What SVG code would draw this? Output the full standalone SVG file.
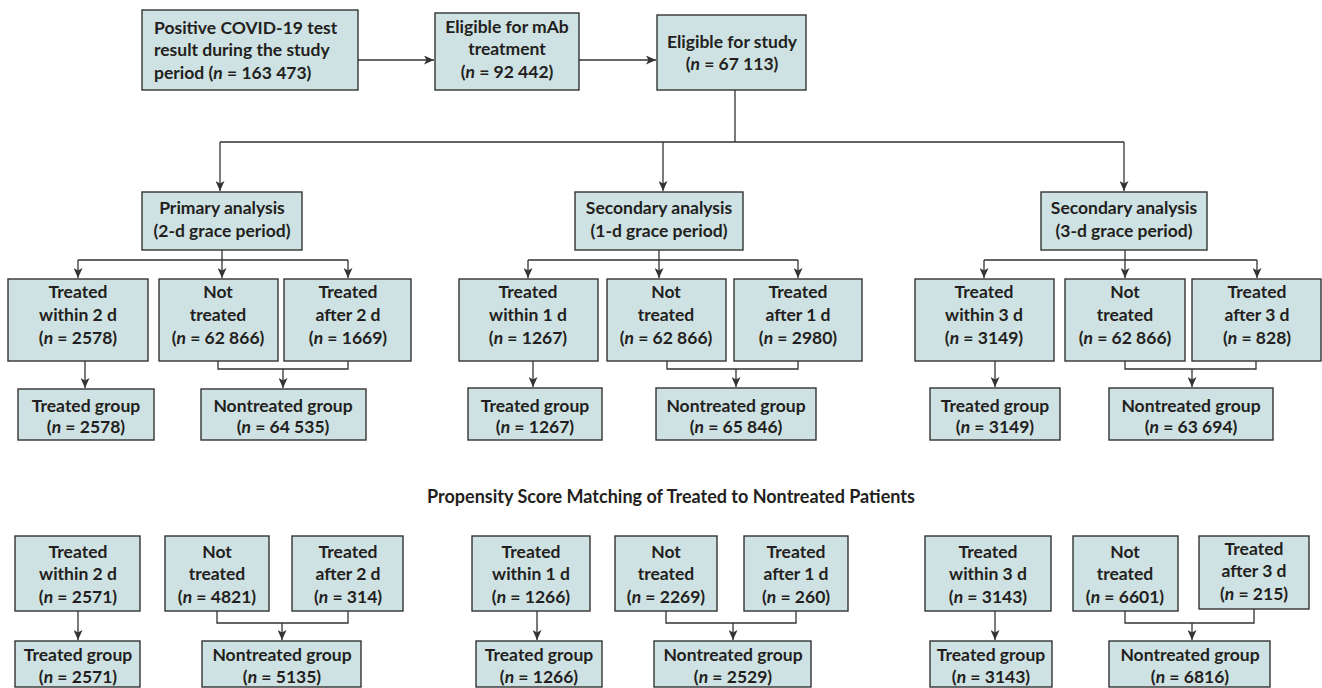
<svg xmlns="http://www.w3.org/2000/svg" width="1322" height="688" viewBox="0 0 1322 688">
<defs>
<style>
.b{fill:#cfe2e3;stroke:#333;stroke-width:1.4}
.t{font-family:Lato,"Open Sans","Liberation Sans",sans-serif;font-size:17.5px;font-weight:700;fill:#231f20;text-anchor:middle}
.h{font-size:18px}
.l{text-anchor:start}
.i{font-style:italic}
.c{fill:none;stroke:#333;stroke-width:1.3}
.a{marker-end:url(#ah)}
</style>
<marker id="ah" markerUnits="userSpaceOnUse" markerWidth="10" markerHeight="9" refX="10" refY="4.5" orient="auto">
<path d="M0,0 L10,4.5 L0,9 L2.5,4.5 z" fill="#333"/>
</marker>
</defs>
<rect width="1322" height="688" fill="#fff"/>

<g id="connectors">
<path class="c a" d="M358 60 H434"/>
<path class="c a" d="M579 60 H656"/>
<path class="c" d="M735 90 V142 M220 142 H1124"/>
<path class="c a" d="M220 142 V191"/>
<path class="c a" d="M663 142 V191"/>
<path class="c a" d="M1124 142 V191"/>

<path class="c" d="M222 250 V260 M78 260 H348"/>
<path class="c a" d="M78 260 V278"/>
<path class="c a" d="M222 260 V278"/>
<path class="c a" d="M348 260 V278"/>
<path class="c a" d="M85 361 V388"/>
<path class="c" d="M218 361 V369 H348 V361"/>
<path class="c a" d="M283 369 V388"/>

<path class="c" d="M659 250 V260 M528 260 H798"/>
<path class="c a" d="M528 260 V278"/>
<path class="c a" d="M659 260 V278"/>
<path class="c a" d="M798 260 V278"/>
<path class="c a" d="M533 361 V387"/>
<path class="c" d="M667 361 V369 H798 V361"/>
<path class="c a" d="M736 369 V387"/>

<path class="c" d="M1125 250 V260 M984 260 H1257"/>
<path class="c a" d="M984 260 V278"/>
<path class="c a" d="M1125 260 V278"/>
<path class="c a" d="M1257 260 V278"/>
<path class="c a" d="M995 361 V387"/>
<path class="c" d="M1125 361 V369 H1256 V361"/>
<path class="c a" d="M1192 369 V387"/>

<path class="c a" d="M78 611 V640"/>
<path class="c" d="M217 611 V623 H348 V611"/>
<path class="c a" d="M282 623 V640"/>

<path class="c a" d="M537 611 V640"/>
<path class="c" d="M666 611 V623 H796 V611"/>
<path class="c a" d="M733 623 V640"/>

<path class="c a" d="M995 611 V640"/>
<path class="c" d="M1125 611 V623 H1254 V609"/>
<path class="c a" d="M1192 623 V640"/>
</g>

<g id="positive">
<rect class="b" x="142" y="10" width="216" height="80"/>
<text class="t l"><tspan x="154" y="34">Positive COVID-19 test</tspan><tspan x="154" y="56">result during the study</tspan><tspan x="154" y="79">period (<tspan class="i">n</tspan> = 163 473)</tspan></text>
</g>
<g id="eligible-mab">
<rect class="b" x="435" y="13" width="144" height="77"/>
<text class="t"><tspan x="507" y="33">Eligible for mAb</tspan><tspan x="507" y="55">treatment</tspan><tspan x="507" y="78">(<tspan class="i">n</tspan> = 92 442)</tspan></text>
</g>
<g id="eligible-study">
<rect class="b" x="657" y="15" width="149" height="75"/>
<text class="t"><tspan x="732" y="48">Eligible for study</tspan><tspan x="732" y="70">(<tspan class="i">n</tspan> = 67 113)</tspan></text>
</g>

<g id="primary">
<rect class="b" x="142" y="192" width="160" height="58"/>
<text class="t"><tspan x="222" y="214">Primary analysis</tspan><tspan x="222" y="237">(2-d grace period)</tspan></text>
</g>
<g id="secondary1">
<rect class="b" x="575" y="192" width="168" height="58"/>
<text class="t"><tspan x="659" y="214">Secondary analysis</tspan><tspan x="659" y="237">(1-d grace period)</tspan></text>
</g>
<g id="secondary3">
<rect class="b" x="1041" y="192" width="166" height="58"/>
<text class="t"><tspan x="1124" y="214">Secondary analysis</tspan><tspan x="1124" y="237">(3-d grace period)</tspan></text>
</g>

<g id="p-within">
<rect class="b" x="8" y="279" width="140" height="82"/>
<text class="t"><tspan x="78" y="298">Treated</tspan><tspan x="78" y="321">within 2 d</tspan><tspan x="78" y="344">(<tspan class="i">n</tspan> = 2578)</tspan></text>
</g>
<g id="p-not">
<rect class="b" x="159" y="279" width="119" height="82"/>
<text class="t"><tspan x="218" y="298">Not</tspan><tspan x="218" y="321">treated</tspan><tspan x="218" y="344">(<tspan class="i">n</tspan> = 62 866)</tspan></text>
</g>
<g id="p-after">
<rect class="b" x="284" y="279" width="127" height="82"/>
<text class="t"><tspan x="348" y="298">Treated</tspan><tspan x="348" y="321">after 2 d</tspan><tspan x="348" y="344">(<tspan class="i">n</tspan> = 1669)</tspan></text>
</g>
<g id="p-treated">
<rect class="b" x="18" y="389" width="136" height="51"/>
<text class="t"><tspan x="86" y="412">Treated group</tspan><tspan x="86" y="433">(<tspan class="i">n</tspan> = 2578)</tspan></text>
</g>
<g id="p-nontreated">
<rect class="b" x="201" y="389" width="165" height="51"/>
<text class="t"><tspan x="283" y="412">Nontreated group</tspan><tspan x="283" y="433">(<tspan class="i">n</tspan> = 64 535)</tspan></text>
</g>

<g id="s1-within">
<rect class="b" x="459" y="279" width="139" height="82"/>
<text class="t"><tspan x="528" y="298">Treated</tspan><tspan x="528" y="321">within 1 d</tspan><tspan x="528" y="344">(<tspan class="i">n</tspan> = 1267)</tspan></text>
</g>
<g id="s1-not">
<rect class="b" x="607" y="279" width="119" height="82"/>
<text class="t"><tspan x="666" y="298">Not</tspan><tspan x="666" y="321">treated</tspan><tspan x="666" y="344">(<tspan class="i">n</tspan> = 62 866)</tspan></text>
</g>
<g id="s1-after">
<rect class="b" x="734" y="279" width="128" height="82"/>
<text class="t"><tspan x="798" y="298">Treated</tspan><tspan x="798" y="321">after 1 d</tspan><tspan x="798" y="344">(<tspan class="i">n</tspan> = 2980)</tspan></text>
</g>
<g id="s1-treated">
<rect class="b" x="468" y="388" width="134" height="52"/>
<text class="t"><tspan x="535" y="412">Treated group</tspan><tspan x="535" y="433">(<tspan class="i">n</tspan> = 1267)</tspan></text>
</g>
<g id="s1-nontreated">
<rect class="b" x="656" y="388" width="160" height="52"/>
<text class="t"><tspan x="736" y="412">Nontreated group</tspan><tspan x="736" y="433">(<tspan class="i">n</tspan> = 65 846)</tspan></text>
</g>

<g id="s3-within">
<rect class="b" x="915" y="279" width="139" height="82"/>
<text class="t"><tspan x="984" y="298">Treated</tspan><tspan x="984" y="321">within 3 d</tspan><tspan x="984" y="344">(<tspan class="i">n</tspan> = 3149)</tspan></text>
</g>
<g id="s3-not">
<rect class="b" x="1065" y="279" width="120" height="82"/>
<text class="t"><tspan x="1125" y="298">Not</tspan><tspan x="1125" y="321">treated</tspan><tspan x="1125" y="344">(<tspan class="i">n</tspan> = 62 866)</tspan></text>
</g>
<g id="s3-after">
<rect class="b" x="1192" y="279" width="129" height="82"/>
<text class="t"><tspan x="1257" y="298">Treated</tspan><tspan x="1257" y="321">after 3 d</tspan><tspan x="1257" y="344">(<tspan class="i">n</tspan> = 828)</tspan></text>
</g>
<g id="s3-treated">
<rect class="b" x="930" y="388" width="130" height="52"/>
<text class="t"><tspan x="995" y="412">Treated group</tspan><tspan x="995" y="433">(<tspan class="i">n</tspan> = 3149)</tspan></text>
</g>
<g id="s3-nontreated">
<rect class="b" x="1109" y="388" width="164" height="52"/>
<text class="t"><tspan x="1191" y="412">Nontreated group</tspan><tspan x="1191" y="433">(<tspan class="i">n</tspan> = 63 694)</tspan></text>
</g>

<g id="psm-title">
<text class="t h" x="671" y="503">Propensity Score Matching of Treated to Nontreated Patients</text>
</g>

<g id="m-p-within">
<rect class="b" x="15" y="536" width="125" height="75"/>
<text class="t"><tspan x="78" y="558">Treated</tspan><tspan x="78" y="580">within 2 d</tspan><tspan x="78" y="603">(<tspan class="i">n</tspan> = 2571)</tspan></text>
</g>
<g id="m-p-not">
<rect class="b" x="165" y="536" width="104" height="75"/>
<text class="t"><tspan x="217" y="558">Not</tspan><tspan x="217" y="580">treated</tspan><tspan x="217" y="603">(<tspan class="i">n</tspan> = 4821)</tspan></text>
</g>
<g id="m-p-after">
<rect class="b" x="292" y="536" width="111" height="75"/>
<text class="t"><tspan x="348" y="558">Treated</tspan><tspan x="348" y="580">after 2 d</tspan><tspan x="348" y="603">(<tspan class="i">n</tspan> = 314)</tspan></text>
</g>
<g id="m-p-treated">
<rect class="b" x="15" y="641" width="125" height="46"/>
<text class="t"><tspan x="78" y="661">Treated group</tspan><tspan x="78" y="683">(<tspan class="i">n</tspan> = 2571)</tspan></text>
</g>
<g id="m-p-nontreated">
<rect class="b" x="202" y="641" width="159" height="46"/>
<text class="t"><tspan x="282" y="661">Nontreated group</tspan><tspan x="282" y="683">(<tspan class="i">n</tspan> = 5135)</tspan></text>
</g>

<g id="m-s1-within">
<rect class="b" x="472" y="536" width="118" height="75"/>
<text class="t"><tspan x="531" y="558">Treated</tspan><tspan x="531" y="580">within 1 d</tspan><tspan x="531" y="603">(<tspan class="i">n</tspan> = 1266)</tspan></text>
</g>
<g id="m-s1-not">
<rect class="b" x="615" y="536" width="102" height="75"/>
<text class="t"><tspan x="666" y="558">Not</tspan><tspan x="666" y="580">treated</tspan><tspan x="666" y="603">(<tspan class="i">n</tspan> = 2269)</tspan></text>
</g>
<g id="m-s1-after">
<rect class="b" x="744" y="536" width="104" height="75"/>
<text class="t"><tspan x="796" y="558">Treated</tspan><tspan x="796" y="580">after 1 d</tspan><tspan x="796" y="603">(<tspan class="i">n</tspan> = 260)</tspan></text>
</g>
<g id="m-s1-treated">
<rect class="b" x="476" y="641" width="126" height="46"/>
<text class="t"><tspan x="539" y="661">Treated group</tspan><tspan x="539" y="683">(<tspan class="i">n</tspan> = 1266)</tspan></text>
</g>
<g id="m-s1-nontreated">
<rect class="b" x="654" y="641" width="157" height="46"/>
<text class="t"><tspan x="733" y="661">Nontreated group</tspan><tspan x="733" y="683">(<tspan class="i">n</tspan> = 2529)</tspan></text>
</g>

<g id="m-s3-within">
<rect class="b" x="925" y="536" width="126" height="75"/>
<text class="t"><tspan x="988" y="558">Treated</tspan><tspan x="988" y="580">within 3 d</tspan><tspan x="988" y="603">(<tspan class="i">n</tspan> = 3143)</tspan></text>
</g>
<g id="m-s3-not">
<rect class="b" x="1073" y="536" width="105" height="75"/>
<text class="t"><tspan x="1125" y="558">Not</tspan><tspan x="1125" y="580">treated</tspan><tspan x="1125" y="603">(<tspan class="i">n</tspan> = 6601)</tspan></text>
</g>
<g id="m-s3-after">
<rect class="b" x="1199" y="536" width="110" height="73"/>
<text class="t"><tspan x="1254" y="555">Treated</tspan><tspan x="1254" y="577">after 3 d</tspan><tspan x="1254" y="600">(<tspan class="i">n</tspan> = 215)</tspan></text>
</g>
<g id="m-s3-treated">
<rect class="b" x="930" y="641" width="122" height="46"/>
<text class="t"><tspan x="991" y="661">Treated group</tspan><tspan x="991" y="683">(<tspan class="i">n</tspan> = 3143)</tspan></text>
</g>
<g id="m-s3-nontreated">
<rect class="b" x="1109" y="641" width="161" height="46"/>
<text class="t"><tspan x="1190" y="661">Nontreated group</tspan><tspan x="1190" y="683">(<tspan class="i">n</tspan> = 6816)</tspan></text>
</g>
</svg>
